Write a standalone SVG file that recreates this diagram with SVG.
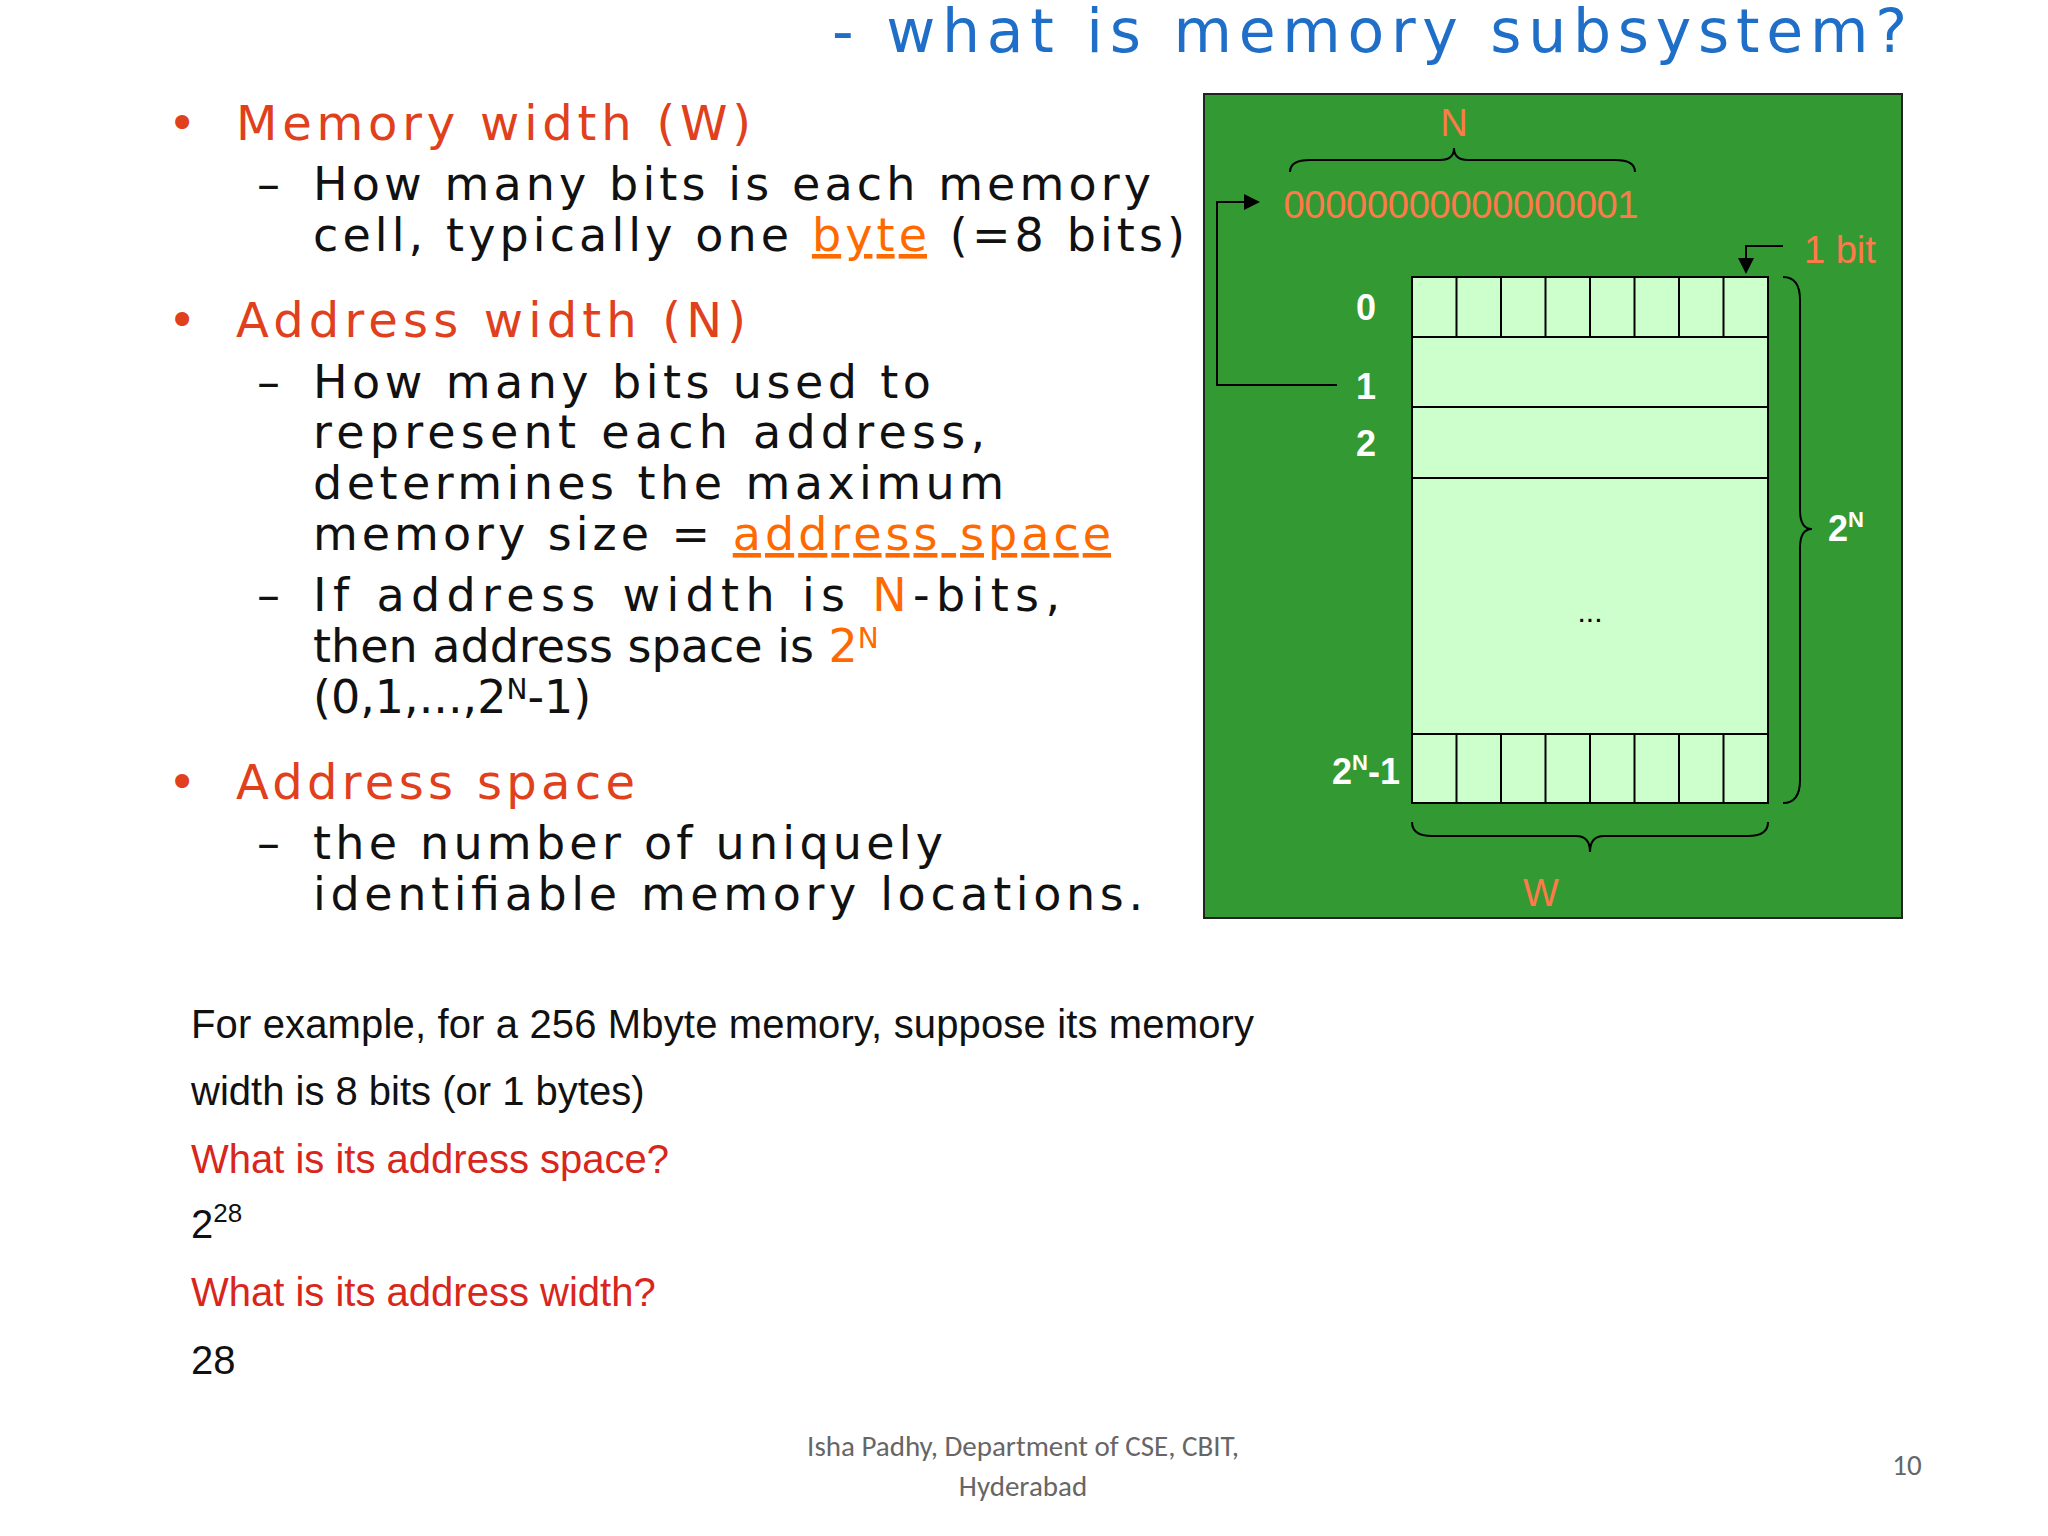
<svg xmlns="http://www.w3.org/2000/svg" width="2048" height="1536" viewBox="0 0 2048 1536">
<style>
.t{font-family:"DejaVu Sans",sans-serif;font-size:46px;fill:#111}
.h{font-family:"DejaVu Sans",sans-serif;font-size:48px;fill:#e0401c}
.o{fill:#ff6a00;text-decoration:underline}
.r{fill:#ff6a00}
.b{font-family:"Liberation Sans",sans-serif;font-size:40px;fill:#111}
.br{fill:#d8261c}
.w{font-family:"Liberation Sans",sans-serif;font-weight:bold;font-size:36px;fill:#fff}
.ow{font-family:"Liberation Sans",sans-serif;font-size:38px;fill:#ff7a4a}
.ln{stroke:#000;stroke-width:2;fill:none}
.f{font-family:"Calibri","Liberation Sans",sans-serif;font-size:29px;fill:#666}
</style>
<defs><marker id="a" markerWidth="8" markerHeight="8" refX="7" refY="4" orient="auto"><path d="M0,0 L8,4 L0,8 z" fill="#000"/></marker></defs>
<rect width="2048" height="1536" fill="#fff"/>
<text x="832" y="52" font-family="DejaVu Sans,sans-serif" font-size="60" fill="#1f6fc8" textLength="1075">- what is memory subsystem?</text>
<g id="text">
<text class="h" x="168" y="140">•</text><text class="h" x="236" y="140" textLength="515">Memory width (W)</text>
<text class="t" x="257" y="200">–</text><text class="t" x="313" y="200" textLength="838">How many bits is each memory</text>
<text class="t" x="313" y="251" textLength="872">cell, typically one <tspan class="o">byte</tspan> (=8 bits)</text>
<text class="h" x="168" y="337">•</text><text class="h" x="236" y="337" textLength="510">Address width (N)</text>
<text class="t" x="257" y="398">–</text><text class="t" x="313" y="398" textLength="618">How many bits used to</text>
<text class="t" x="313" y="448" textLength="672">represent each address,</text>
<text class="t" x="313" y="499" textLength="691">determines the maximum</text>
<text class="t" x="313" y="550" textLength="798">memory size = <tspan class="o">address space</tspan></text>
<text class="t" x="257" y="611">–</text><text class="t" x="313" y="611" textLength="747">If address width is <tspan class="r">N</tspan>-bits,</text>
<text class="t" x="313" y="662">then address space is <tspan class="r">2<tspan dy="-14" font-size="28">N</tspan></tspan></text>
<text class="t" x="313" y="713">(0,1,...,2<tspan dy="-14" font-size="28">N</tspan><tspan dy="14">-1)</tspan></text>
<text class="h" x="168" y="799">•</text><text class="h" x="236" y="799" textLength="399">Address space</text>
<text class="t" x="257" y="859">–</text><text class="t" x="313" y="859" textLength="630">the number of uniquely</text>
<text class="t" x="313" y="910" textLength="830">identifiable memory locations.</text>
</g>
<g id="diagram">
<rect x="1204" y="94" width="698" height="824" fill="#339933" stroke="#222" stroke-width="2"/>
<rect x="1412" y="277" width="356" height="526" fill="#ccffcc" stroke="#000" stroke-width="2"/>
<path class="ln" d="M1412,337H1768M1412,407H1768M1412,478H1768M1412,734H1768"/>
<path class="ln" d="M1456.5,277V337M1501,277V337M1545.5,277V337M1590,277V337M1634.5,277V337M1679,277V337M1723.5,277V337M1456.5,734V803M1501,734V803M1545.5,734V803M1590,734V803M1634.5,734V803M1679,734V803M1723.5,734V803"/>
<text class="w" x="1366" y="320" text-anchor="middle">0</text>
<text class="w" x="1366" y="399" text-anchor="middle">1</text>
<text class="w" x="1366" y="456" text-anchor="middle">2</text>
<text class="w" x="1400" y="784" text-anchor="end">2<tspan dy="-14" font-size="22">N</tspan><tspan dy="14">-1</tspan></text>
<text x="1590" y="622" text-anchor="middle" font-family="Liberation Sans,sans-serif" font-size="30" fill="#000">...</text>
<text class="w" x="1828" y="541" font-weight="normal">2<tspan dy="-14" font-size="22">N</tspan></text>
<text class="ow" x="1454" y="136" text-anchor="middle">N</text>
<text class="ow" x="1461" y="218" text-anchor="middle" textLength="355">00000000000000001</text>
<text class="ow" x="1804" y="263">1 bit</text>
<text class="ow" x="1541" y="906" text-anchor="middle">W</text>
<path class="ln" d="M1290,172Q1290,160 1310,160H1440Q1454,160 1454,148Q1454,160 1468,160H1615Q1635,160 1635,172"/>
<path class="ln" d="M1412,822Q1412,836 1432,836H1576Q1590,836 1590,852Q1590,836 1604,836H1748Q1768,836 1768,822"/>
<path class="ln" d="M1783,277Q1800,277 1800,300V510Q1800,529 1812,529Q1800,529 1800,548V780Q1800,803 1783,803"/>
</g>
<g id="connectors">
<path class="ln" d="M1337,385H1217V202H1258" stroke-width="3" marker-end="url(#a)"/>
<path class="ln" d="M1783,246H1746V272" stroke-width="3" marker-end="url(#a)"/>
</g>
<g id="example">
<text class="b" x="191" y="1038" textLength="1063">For example, for a 256 Mbyte memory, suppose its memory</text>
<text class="b" x="191" y="1105">width is 8 bits (or 1 bytes)</text>
<text class="b br" x="191" y="1173">What is its address space?</text>
<text class="b" x="191" y="1238">2<tspan dy="-16" font-size="26">28</tspan></text>
<text class="b br" x="191" y="1306">What is its address width?</text>
<text class="b" x="191" y="1374">28</text>
</g>
<text class="f" x="1023" y="1456" text-anchor="middle">Isha Padhy, Department of CSE, CBIT,</text>
<text class="f" x="1023" y="1496" text-anchor="middle">Hyderabad</text>
<text class="f" x="1907" y="1475" text-anchor="middle">10</text>
</svg>
